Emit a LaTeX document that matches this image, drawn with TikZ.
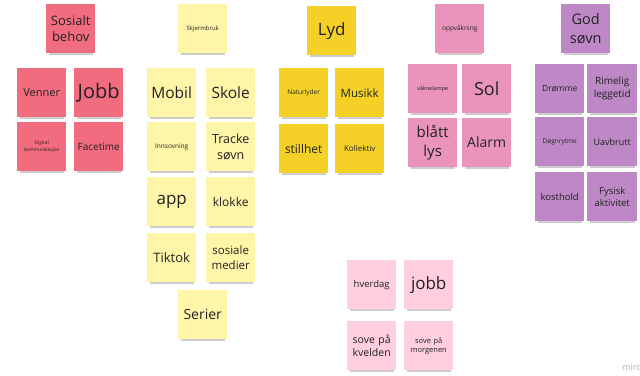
\documentclass[tikz,border=0pt]{standalone}
\usepackage{fontspec}
\setmainfont{Open Sans}
\usetikzlibrary{shadows}
\definecolor{mred}{HTML}{F16C7F}
\definecolor{mlyellow}{HTML}{FFF5A8}
\definecolor{myellow}{HTML}{F5D128}
\definecolor{mpink}{HTML}{EA94BB}
\definecolor{mviolet}{HTML}{BE88C7}
\definecolor{mlpink}{HTML}{FFCEE0}
\definecolor{ink}{HTML}{222222}
\tikzset{
  sticky/.style={
    fill=#1, draw=none, anchor=north west,
    minimum width=49pt, minimum height=49pt,
    text width=47pt, align=center, inner sep=1pt,
    text=ink,
    general shadow={fill=black, opacity=0.2, shadow scale=0.9, shadow yshift=-4.5pt}
  },
  fs/.style={font={\fontsize{#1}{#1}\selectfont\baselineskip=1.28\dimexpr#1pt\relax}},
}
\begin{document}
\begin{tikzpicture}[x=1pt,y=1pt]
\useasboundingbox (0,0) rectangle (640,-375);
\fill[white] (0,0) rectangle (640,-375);

% Sosialt behov
\node[sticky=mred, fs=13] (sos) at (46,-4) {Sosialt\\behov};
\node[sticky=mred, fs=11] (venner) at (17,-68) {Venner};
\node[sticky=mred, fs=20] (jobbA) at (74,-68) {Jobb};
\node[sticky=mred, fs=4.8] (digital) at (17,-122) {Digital\\kommunikasjon};
\node[sticky=mred, fs=10] (facetime) at (74,-122) {Facetime};

% Skjermbruk
\node[sticky=mlyellow, fs=6] (skjerm) at (178,-4) {Skjermbruk};
\node[sticky=mlyellow, fs=15.5] (mobil) at (147,-68) {Mobil};
\node[sticky=mlyellow, fs=15.5] (skole) at (206,-68) {Skole};
\node[sticky=mlyellow, fs=6.5] (innsov) at (147,-122) {Innsovning};
\node[sticky=mlyellow, fs=12.5] (tracke) at (206,-122) {Tracke\\søvn};
\node[sticky=mlyellow, fs=17] (app) at (147,-177) {app};
\node[sticky=mlyellow, fs=12] (klokke) at (206,-177) {klokke};
\node[sticky=mlyellow, fs=13] (tiktok) at (147,-233) {Tiktok};
\node[sticky=mlyellow, fs=11.5] (sosmed) at (206,-233) {sosiale\\medier};
\node[sticky=mlyellow, fs=14] (serier) at (178,-290) {Serier};

% Lyd
\node[sticky=myellow, fs=17] (lyd) at (307,-6) {Lyd};
\node[sticky=myellow, fs=6.5] (natur) at (279,-68) {Naturlyder};
\node[sticky=myellow, fs=11.5] (musikk) at (335,-68) {Musikk};
\node[sticky=myellow, fs=12] (still) at (279,-124) {stillhet};
\node[sticky=myellow, fs=8] (kollektiv) at (335,-124) {Kollektiv};

% Oppvåkning
\node[sticky=mpink, fs=6.5] (oppv) at (435,-4) {oppvåkning};
\node[sticky=mpink, fs=5.5] (lampe) at (408,-64) {våknelampe};
\node[sticky=mpink, fs=18] (sol) at (462,-64) {Sol};
\node[sticky=mpink, fs=15] (blatt) at (408,-118) {blått\\lys};
\node[sticky=mpink, fs=14] (alarm) at (462,-118) {Alarm};

% God søvn
\node[sticky=mviolet, fs=14.5] (god) at (561,-4) {God\\søvn};
\node[sticky=mviolet, fs=8.5] (dromme) at (535,-64) {Drømme};
\node[sticky=mviolet, fs=10, minimum width=50pt] (rimelig) at (587,-64) {Rimelig\\leggetid};
\node[sticky=mviolet, fs=6.5] (dogn) at (535,-117) {Døgnrytme};
\node[sticky=mviolet, fs=9, minimum width=50pt] (uavbrutt) at (587,-117) {Uavbrutt};
\node[sticky=mviolet, fs=9.5] (kost) at (535,-172) {kosthold};
\node[sticky=mviolet, fs=9.5, minimum width=50pt] (fysisk) at (587,-172) {Fysisk\\aktivitet};

% Hverdag
\node[sticky=mlpink, fs=9.5] (hverdag) at (347,-260) {hverdag};
\node[sticky=mlpink, fs=17] (jobbB) at (404,-260) {jobb};
\node[sticky=mlpink, fs=10.5] (kvelden) at (347,-321) {sove på\\kvelden};
\node[sticky=mlpink, fs=7.5] (morgen) at (404,-321) {sove på\\morgenen};

% watermark
\node[anchor=west, inner sep=0pt, text=black!30, fs=9] (wm) at (622,-367) {miro};
\end{tikzpicture}
\end{document}
